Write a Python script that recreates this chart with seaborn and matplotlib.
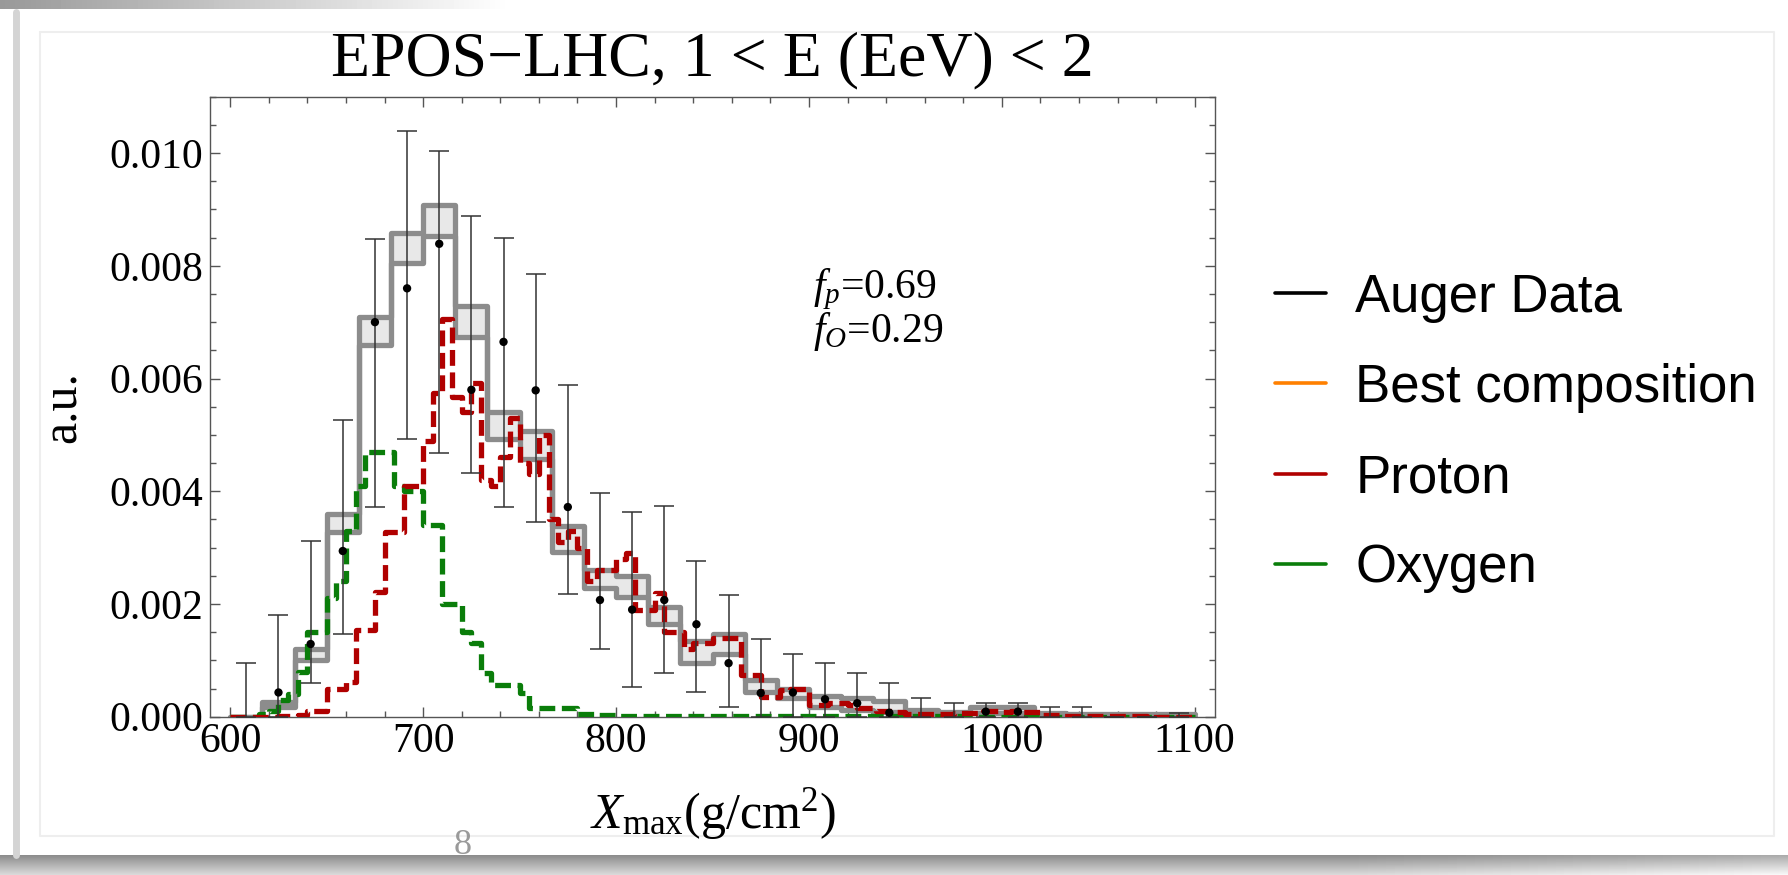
import numpy as np
import matplotlib
matplotlib.use("Agg")
import matplotlib.pyplot as plt
from matplotlib.lines import Line2D
from matplotlib.ticker import MultipleLocator, FormatStrFormatter
import seaborn as sns

# binning: data in 30 bins, simulations in 100 bins (600 - 1100 g/cm2)
data_edges = np.linspace(600, 1100, 31)
mc_edges = np.linspace(600, 1100, 101)
data_centers = (data_edges[:-1] + data_edges[1:]) / 2

# Auger data points and error bar ends
auger_y = [0.0, 0.00043, 0.00129, 0.00294, 0.0070, 0.0076, 0.00839, 0.0058, 0.00665, 0.00579,
           0.00372, 0.00207, 0.0019, 0.00207, 0.00164, 0.00095, 0.00042, 0.00043, 0.00031, 0.00024,
           0.00007, 0.0, 0.0, 0.00009, 0.00009, 0.0, 0.0, 0.0, 0.0, 0.0]
auger_hi = [0.00095, 0.0018, 0.00312, 0.00526, 0.00847, 0.01039, 0.01003, 0.00889, 0.00849, 0.00786,
            0.00588, 0.00397, 0.00364, 0.00373, 0.00277, 0.00216, 0.00138, 0.00112, 0.00095, 0.00077,
            0.0006, 0.00034, 0.00025, 0.00025, 0.00025, 0.00017, 0.00017, 0.0, 0.0, 0.00007]
auger_lo = [0.0, 0.0, 0.0006, 0.00146, 0.00372, 0.00492, 0.00467, 0.00433, 0.00372, 0.00345,
            0.00217, 0.00121, 0.00052, 0.00077, 0.00043, 0.00017, 0.0, 0.0, 0.0, 0.0,
            0.0, 0.0, 0.0, 0.0, 0.0, 0.0, 0.0, 0.0, 0.0, 0.0]

# best composition uncertainty band
band_lo = [0.0, 0.00018, 0.00101, 0.00328, 0.0066, 0.00805, 0.00853, 0.00674, 0.00492, 0.00458,
           0.00293, 0.00228, 0.00213, 0.00164, 0.00096, 0.00112, 0.00044, 0.00033, 0.00018, 0.00012,
           0.00009, 0.00003, 0.00002, 0.00006, 0.00006, 0.0, 0.0, 0.0, 0.0, 0.0]
band_hi = [0.0, 0.00026, 0.0012, 0.0036, 0.0071, 0.00858, 0.00907, 0.00729, 0.00541, 0.00507,
           0.00338, 0.0026, 0.0025, 0.00195, 0.00135, 0.00146, 0.00065, 0.0005, 0.00037, 0.00034,
           0.00027, 0.00012, 0.00009, 0.00017, 0.00017, 0.00006, 0.00005, 0.00005, 0.00005, 0.00005]

# simulated proton and oxygen Xmax distributions (5 g/cm2 bins)
proton = [0.0, 0.0, 0.0, 0.0, 0.0, 0.00001, 0.00002, 0.00003, 0.0001, 0.0001,
          0.0005, 0.0005, 0.00062, 0.00154, 0.00154, 0.00222, 0.00328, 0.00328, 0.0041, 0.0041,
          0.0049, 0.00575, 0.00705, 0.00568, 0.00541, 0.00592, 0.0042, 0.0041, 0.0046, 0.0053,
          0.0045, 0.0043, 0.0050, 0.0035, 0.0031, 0.0033, 0.0030, 0.0024, 0.0026, 0.0026,
          0.0028, 0.0029, 0.0019, 0.0019, 0.0022, 0.0015, 0.0015, 0.0012, 0.0013, 0.0013,
          0.0014, 0.0014, 0.0014, 0.00074, 0.00074, 0.00035, 0.00035, 0.00047, 0.0005, 0.0005,
          0.0002, 0.0002, 0.00025, 0.00025, 0.0002, 0.00015, 0.00015, 0.0001, 0.0001, 0.00008,
          0.00005, 0.00005, 0.00005, 0.00004, 0.00004, 0.00006, 0.00006, 0.00006, 0.0001, 0.0001,
          0.00008, 0.0001, 0.00008, 0.00008, 0.00003, 0.00003, 0.00002, 0.00002, 0.00002, 0.00002,
          0.00001, 0.00001, 0.00001, 0.00001, 0.00001, 0.0, 0.0, 0.0, 0.0, 0.0]
oxygen = [0.0, 0.0, 0.0, 0.00005, 0.0001, 0.0003, 0.0004, 0.0008, 0.0015, 0.0015,
          0.0021, 0.0024, 0.0033, 0.0041, 0.0047, 0.0047, 0.0047, 0.0041, 0.0040, 0.0040,
          0.0034, 0.0034, 0.0020, 0.0020, 0.0015, 0.0013, 0.00077, 0.00056, 0.00056, 0.00056,
          0.00042, 0.00015, 0.00015, 0.00015, 0.00015, 0.00015, 0.00005, 0.00005, 0.00003, 0.00003,
          0.00002, 0.00002, 0.00002, 0.00002, 0.00002, 0.00002, 0.00002, 0.00002, 0.00002, 0.00002,
          0.00002, 0.00002, 0.00002, 0.00002, 0.00002, 0.00002, 0.00002, 0.00002, 0.00002, 0.00002,
          0.00002, 0.00002, 0.00002, 0.00002, 0.00002, 0.00002, 0.00002, 0.00002, 0.00002, 0.00002,
          0.00002, 0.00002, 0.00002, 0.00002, 0.00002, 0.00002, 0.0, 0.0, 0.0, 0.0,
          0.0, 0.0, 0.0, 0.0, 0.0, 0.0, 0.0, 0.0, 0.0, 0.0,
          0.0, 0.0, 0.0, 0.0, 0.0, 0.0, 0.0, 0.0, 0.0, 0.0]

legend_labels = ["Auger Data", "Best composition", "Proton", "Oxygen"]
legend_colors = ["black", "#ff8000", "#b00000", "#0a7d0a"]

sns.set_theme(style="ticks")
plt.rcParams["font.family"] = ["Liberation Serif", "DejaVu Serif"]
plt.rcParams["mathtext.fontset"] = "custom"
plt.rcParams["mathtext.rm"] = "Liberation Serif"
plt.rcParams["mathtext.it"] = "Liberation Serif:italic"
plt.rcParams["text.color"] = "black"

W, H = 1788, 875
fig = plt.figure(figsize=(W / 100, H / 100), dpi=100, facecolor="white")

# slide frame around the plot (screenshot look)
bg = fig.add_axes([0, 0, 1, 1], zorder=-10)
shade = np.linspace(0.55, 0.85, 20)[:, None] * np.ones((1, 200))
shade[:, 150:] = shade[:, 150:] + np.linspace(0, 0.12, 50)[None, :]
bg.imshow(shade, extent=[0, W, H, 855], cmap="gray", vmin=0, vmax=1, aspect="auto")
top = np.linspace(0.6, 1.0, 100)[None, :] * np.ones((9, 1))
bg.imshow(top, extent=[0, 510, 9, 0], cmap="gray", vmin=0, vmax=1, aspect="auto")
bg.plot([16, 16], [12, 855], color="#d4d4d4", lw=5)
bg.plot([40, 1774, 1774, 40, 40], [32, 32, 836, 836, 32], color="#eeeeee", lw=1.5)
bg.text(463, 845, "8", fontsize=26, color="#9a9a9a", ha="center", va="center")
bg.set_xlim(0, W)
bg.set_ylim(H, 0)
bg.axis("off")

ax = fig.add_axes([210 / W, (H - 716.7) / H, 1005 / W, 620 / H])
ax.set_facecolor("none")


def steps(edges, vals, **kw):
    sns.lineplot(x=edges, y=np.append(vals, vals[-1]), drawstyle="steps-post",
                 estimator=None, sort=False, ax=ax, **kw)


# uncertainty band of the best composition
ax.fill_between(data_edges, np.append(band_lo, band_lo[-1]), np.append(band_hi, band_hi[-1]),
                step="post", color="#e8e8e8", lw=0, zorder=1)
for vals in (band_hi, band_lo):
    steps(data_edges, vals, color="#8c8c8c", linewidth=3.8, zorder=2)

steps(mc_edges, oxygen, color=legend_colors[3], linewidth=3.8, linestyle=(0, (3.0, 1.25)), zorder=3)
steps(mc_edges, proton, color=legend_colors[2], linewidth=3.8, linestyle=(0, (3.0, 1.25)), zorder=3)

y = np.array(auger_y)
ax.errorbar(data_centers, y, yerr=[y - np.array(auger_lo), np.array(auger_hi) - y], fmt="none",
            ecolor="#333333", elinewidth=1.1, capsize=7, capthick=1.1, zorder=4)
mask = y > 0
sns.scatterplot(x=data_centers[mask], y=y[mask], color="black", s=36, edgecolor="none",
                zorder=5, ax=ax, legend=False)

ax.set_xlim(589.5, 1110.5)
ax.set_ylim(0, 0.011)
ax.set_xlabel("")
ax.set_ylabel("")
ax.xaxis.set_major_locator(MultipleLocator(100))
ax.xaxis.set_minor_locator(MultipleLocator(20))
ax.yaxis.set_major_locator(MultipleLocator(0.002))
ax.yaxis.set_minor_locator(MultipleLocator(0.0005))
ax.yaxis.set_major_formatter(FormatStrFormatter("%.3f"))
ax.tick_params(which="both", direction="in", top=True, right=True, color="#555555", width=1.0,
               labelcolor="black")
ax.tick_params(which="major", length=7.5, labelsize=30, pad=5)
ax.tick_params(which="minor", length=4.5)
ax.tick_params(axis="x", pad=4)
for s in ax.spines.values():
    s.set_visible(True)
    s.set_color("#555555")
    s.set_linewidth(1.0)

fig.text(712.5 / W, 1 - 75 / H, "EPOS\u2212LHC, 1 < E (EeV) < 2", fontsize=46,
         ha="center", va="baseline")
fig.text(712.5 / W, 1 - 828 / H, r"$X_{\mathrm{max}}$(g/cm$^{2}$)", fontsize=36,
         ha="center", va="baseline")
fig.text(64 / W, 1 - 406.7 / H, "a.u.", fontsize=36, rotation=90, ha="center", va="center")

ax.text(0.6, 0.675, r"$f_p$=0.69", transform=ax.transAxes, fontsize=30, va="baseline")
ax.text(0.6, 0.604, r"$f_O$=0.29", transform=ax.transAxes, fontsize=30, va="baseline")

handles = [Line2D([], [], color=c, lw=2.6) for c in legend_colors]
fig.legend(handles, legend_labels, loc="center left", bbox_to_anchor=(1275 / W, 1 - 433 / H),
           bbox_transform=fig.transFigure, frameon=False, borderaxespad=0, borderpad=0,
           handlelength=0.97, handletextpad=0.55, labelspacing=0.76, labelcolor="black",
           prop={"family": "Liberation Sans", "size": 38})

fig.savefig("out.png", dpi=100, facecolor="white")
